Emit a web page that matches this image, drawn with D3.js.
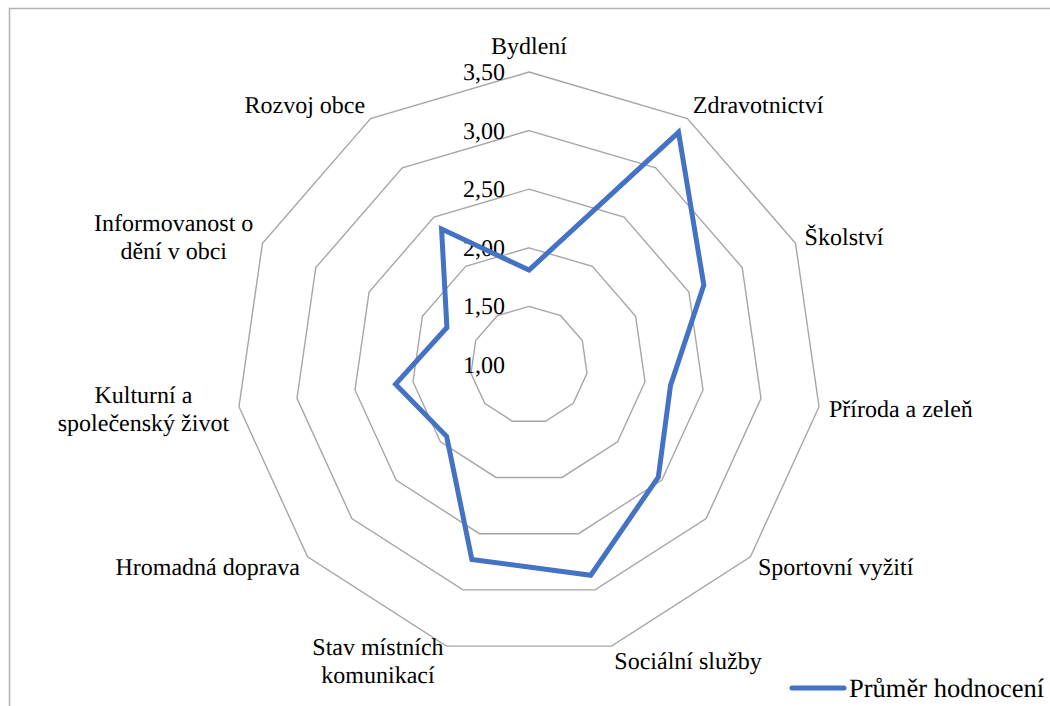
<!DOCTYPE html>
<html>
<head>
<meta charset="utf-8">
<script src="https://cdn.jsdelivr.net/npm/d3@7"></script>
<style>
  body { margin: 0; background: #fff; }
  svg { display: block; }
  svg text { font-family: "Liberation Serif", "Times New Roman", serif; fill: #000; text-rendering: geometricPrecision; }
</style>
</head>
<body>
<div id="chart"></div>
<script>
// categories, one per axis (\n marks the wrap used in the original)
const categories = [
  'Bydlení', 'Zdravotnictví', 'Školství', 'Příroda a zeleň', 'Sportovní vyžití',
  'Sociální služby', 'Stav místních\nkomunikací', 'Hromadná doprava',
  'Kulturní a\nspolečenský život', 'Informovanost o\ndění v obci', 'Rozvoj obce'
]
const values = [1.81, 3.36, 2.64, 2.22, 2.46, 2.87, 2.73, 1.93, 2.15, 1.77, 2.38]
const ticks = [1.0, 1.5, 2.0, 2.5, 3.0, 3.5]
const seriesName = 'Průměr hodnocení'

const width = 1050, height = 706
const cx = 529, cy = 365, R = 293
const serif = '"Liberation Serif", "Times New Roman", serif'
const fontSize = '24px'

const svg = d3.select('#chart').append('svg')
  .attr('width', width)
  .attr('height', height)

// chart area border
svg.append('rect')
  .attr('x', 9.5).attr('y', 8.5)
  .attr('width', 1100).attr('height', 800)
  .attr('fill', 'none')
  .attr('stroke', '#b3b3b3')
  .attr('stroke-width', 1.5)

const r = d3.scaleLinear().domain([1, 3.5]).range([0, R])
const angle = d3.scaleLinear().domain([0, categories.length]).range([0, 2 * Math.PI])

const pt = (i, v) => {
  const a = angle(i)
  return [cx + r(v) * Math.sin(a), cy - r(v) * Math.cos(a)]
}

// grid rings
svg.append('g').selectAll('path')
  .data(ticks.slice(1))
  .enter()
  .append('path')
  .attr('d', t => d3.line()(categories.map((c, i) => pt(i, t))) + 'Z')
  .attr('fill', 'none')
  .attr('stroke', '#a6a6a6')
  .attr('stroke-width', 1.4)

// tick labels
svg.append('g').selectAll('text')
  .data(ticks)
  .enter()
  .append('text')
  .attr('x', cx - 24)
  .attr('y', t => cy - r(t))
  .attr('dy', '0.33em')
  .attr('text-anchor', 'end')
  .attr('font-family', serif)
  .style('font-size', fontSize)
  .text(t => t.toFixed(2).replace('.', ','))

// series
svg.append('path')
  .attr('d', d3.line()(values.map((v, i) => pt(i, v))) + 'Z')
  .attr('fill', 'none')
  .attr('stroke', '#4472C4')
  .attr('stroke-width', 5)
  .attr('stroke-linejoin', 'miter')

// category labels
const lineH = 28
categories.forEach((c, i) => {
  const a = angle(i)
  const s = Math.sin(a), co = Math.cos(a)
  const [vx, vy] = pt(i, 3.5)
  const lines = c.split('\n')
  const g = svg.append('g')
  const texts = lines.map((l, k) => g.append('text')
    .attr('font-family', serif)
    .style('font-size', fontSize)
    .attr('text-anchor', 'middle')
    .attr('y', k * lineH)
    .text(l))
  const w = d3.max(texts, t => t.node().getComputedTextLength())
  let bx
  if (Math.abs(s) < 0.1) bx = vx
  else if (s > 0) bx = vx + 10 * s + w / 2
  else bx = vx + 10 * s - w / 2
  let midY = vy - co * 16
  if (i === 0) midY = vy - 26
  const h = (lines.length - 1) * lineH
  texts.forEach(t => t.attr('x', bx))
  g.attr('transform', `translate(0,${midY - h / 2 + 8})`)
})

// legend
svg.append('line')
  .attr('x1', 792).attr('x2', 844)
  .attr('y1', 688).attr('y2', 688)
  .attr('stroke', '#4472C4')
  .attr('stroke-width', 5)
  .attr('stroke-linecap', 'round')

svg.append('text')
  .attr('x', 849).attr('y', 697)
  .attr('font-family', serif)
  .style('font-size', '26.5px')
  .text(seriesName)
</script>
</body>
</html>
